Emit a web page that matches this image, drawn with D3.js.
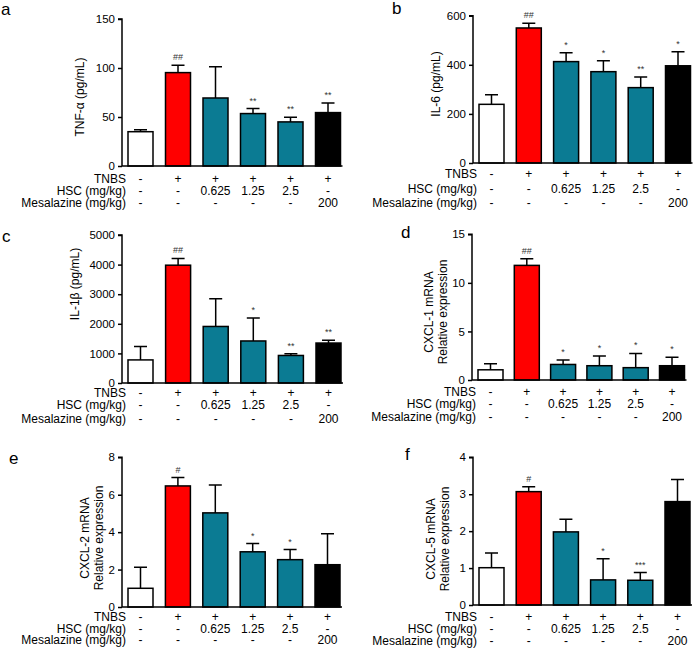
<!DOCTYPE html>
<html>
<head>
<meta charset="utf-8">
<script src="https://cdn.jsdelivr.net/npm/d3@7"></script>
<style>
  body { margin: 0; background: #fff; }
  svg text { font-family: "Liberation Sans", Arial, sans-serif; fill: #000; }
  .bar { stroke: #000; stroke-width: 1.5; }
  .err { stroke: #000; stroke-width: 1.5; fill: none; }
  .axis path, .axis line { stroke: #000; stroke-width: 1.5; }
  .sig { font-size: 9px; fill: #333; }
</style>
</head>
<body>
<svg width="698" height="649"></svg>
<script>
// groups, row labels under each chart
const groups = ["Control", "TNBS", "HSC 0.625", "HSC 1.25", "HSC 2.5", "Mesalazine"];
const rowLabels = ["TNBS", "HSC (mg/kg)", "Mesalazine (mg/kg)"];
const tnbsRow = ["-", "+", "+", "+", "+", "+"];
const hscRow = ["-", "-", "0.625", "1.25", "2.5", "-"];
const mesRow = ["-", "-", "-", "-", "-", "200"];
const barColors = ["#ffffff", "#ff0000", "#0b7b93", "#0b7b93", "#0b7b93", "#000000"];

// a: TNF-a
const tnfMean = [35, 95.3, 69.4, 53.5, 45, 54.5];
const tnfSd = [2, 7.4, 32, 5.1, 4.7, 9.8];
const tnfSig = ["", "##", "", "**", "**", "**"];
const tnfTicks = [0, 50, 100, 150];
// b: IL-6
const il6Mean = [239, 550, 413, 372, 307, 396];
const il6Sd = [39, 19, 36, 45, 43, 57];
const il6Sig = ["", "##", "*", "*", "**", "*"];
const il6Ticks = [0, 200, 400, 600];
// c: IL-1b
const il1bMean = [780, 3980, 1910, 1420, 930, 1350];
const il1bSd = [450, 230, 940, 780, 60, 95];
const il1bSig = ["", "##", "", "*", "**", "**"];
const il1bTicks = [0, 1000, 2000, 3000, 4000, 5000];
// d: CXCL-1
const cxcl1Mean = [1.05, 11.8, 1.6, 1.47, 1.27, 1.47];
const cxcl1Sd = [0.63, 0.67, 0.45, 1.0, 1.47, 0.86];
const cxcl1Sig = ["", "##", "*", "*", "*", "*"];
const cxcl1Ticks = [0, 5, 10, 15];
// e: CXCL-2
const cxcl2Mean = [1.0, 6.47, 5.03, 2.95, 2.53, 2.26];
const cxcl2Sd = [1.12, 0.45, 1.49, 0.44, 0.54, 1.66];
const cxcl2Sig = ["", "#", "", "*", "*", ""];
const cxcl2Ticks = [0, 2, 4, 6, 8];
// f: CXCL-5
const cxcl5Mean = [1.01, 3.07, 1.98, 0.68, 0.67, 2.8];
const cxcl5Sd = [0.4, 0.13, 0.34, 0.57, 0.21, 0.6];
const cxcl5Sig = ["", "#", "", "*", "***", ""];
const cxcl5Ticks = [0, 1, 2, 3, 4];

// panel placement (pixels)
const panels = [
  {letter: "a", lx: 1, ly: 15, mean: tnfMean, sd: tnfSd, sig: tnfSig, ticks: tnfTicks,
   label: ["TNF-\u03b1 (pg/mL)"], labX: 80, labY: 97,
   ax: 122, top: 19, bot: 166, step: 37.5, rows: [179, 191, 203]},
  {letter: "b", lx: 392, ly: 14, mean: il6Mean, sd: il6Sd, sig: il6Sig, ticks: il6Ticks,
   label: ["IL-6 (pg/mL)"], labX: 436, labY: 84,
   ax: 473, top: 15.7, bot: 163, step: 37.3, rows: [174, 189, 203]},
  {letter: "c", lx: 2, ly: 242, mean: il1bMean, sd: il1bSd, sig: il1bSig, ticks: il1bTicks,
   label: ["IL-1\u03b2 (pg/mL)"], labX: 75, labY: 284,
   ax: 122, top: 235, bot: 383, step: 37.6, rows: [392.5, 404.5, 419]},
  {letter: "d", lx: 401, ly: 238, mean: cxcl1Mean, sd: cxcl1Sd, sig: cxcl1Sig, ticks: cxcl1Ticks,
   label: ["CXCL-1 mRNA", "Relative expression"], labX: 429, labY: 312,
   ax: 472, top: 234.3, bot: 380, step: 36.3, rows: [391.5, 404, 416.5]},
  {letter: "e", lx: 9, ly: 464, mean: cxcl2Mean, sd: cxcl2Sd, sig: cxcl2Sig, ticks: cxcl2Ticks,
   label: ["CXCL-2 mRNA", "Relative expression"], labX: 85, labY: 538,
   ax: 122, top: 457.3, bot: 607, step: 37.4, rows: [617, 629, 640]},
  {letter: "f", lx: 405, ly: 460, mean: cxcl5Mean, sd: cxcl5Sd, sig: cxcl5Sig, ticks: cxcl5Ticks,
   label: ["CXCL-5 mRNA", "Relative expression"], labX: 431, labY: 539,
   ax: 473, top: 457.3, bot: 605, step: 37.2, rows: [616.5, 629, 641]}
];

const svg = d3.select("svg");
const barW = 25;

panels.forEach(p => {
  const g = svg.append("g");
  const n = groups.length;
  const x = d3.scaleBand()
      .domain(groups)
      .range([p.ax + 6 - (p.step - barW) / 2, p.ax + 6 - (p.step - barW) / 2 + p.step * n])
      .paddingInner((p.step - barW) / p.step)
      .paddingOuter((p.step - barW) / p.step / 2);
  const y = d3.scaleLinear()
      .domain([0, d3.max(p.ticks)])
      .range([p.bot, p.top]);

  // bars
  g.selectAll("rect.bar")
    .data(groups)
    .join("rect")
      .classed("bar", true)
      .attr("x", d => x(d))
      .attr("y", (d, i) => y(p.mean[i]))
      .attr("width", x.bandwidth())
      .attr("height", (d, i) => y(0) - y(p.mean[i]))
      .attr("fill", (d, i) => barColors[i]);

  // upper error bars
  const cx = d => x(d) + x.bandwidth() / 2;
  g.selectAll("path.err")
    .data(groups)
    .join("path")
      .classed("err", true)
      .attr("d", (d, i) => {
        const y0 = y(p.mean[i]), y1 = y(p.mean[i] + p.sd[i]);
        return `M ${cx(d)} ${y0} L ${cx(d)} ${y1} M ${cx(d) - 6.5} ${y1} L ${cx(d) + 6.5} ${y1}`;
      });

  // significance marks
  g.selectAll("text.sig")
    .data(groups)
    .join("text")
      .classed("sig", true)
      .attr("x", cx)
      .attr("y", (d, i) => y(p.mean[i] + p.sd[i]) - 5)
      .attr("text-anchor", "middle")
      .text((d, i) => p.sig[i]);

  // y axis
  const yAxis = g.append("g")
      .attr("class", "axis")
      .attr("transform", `translate(${p.ax},0)`)
      .call(d3.axisLeft(y).tickValues(p.ticks).tickSize(4).tickPadding(3).tickFormat(d3.format("d")));
  yAxis.select(".domain").attr("d", `M -4 ${y(d3.max(p.ticks))} H 0 V ${y(0)}`);
  yAxis.selectAll("text").style("font-size", "11.5px").attr("fill", "#000");

  // x axis line
  g.append("line")
      .attr("x1", p.ax).attr("x2", x(groups[n - 1]) + x.bandwidth() + 2)
      .attr("y1", y(0)).attr("y2", y(0))
      .attr("stroke", "#000").attr("stroke-width", 1.5);

  // treatment rows
  [tnbsRow, hscRow, mesRow].forEach((row, r) => {
    g.append("text")
        .attr("x", p.ax + 4)
        .attr("y", p.rows[r])
        .attr("dy", "0.35em")
        .attr("text-anchor", "end")
        .style("font-size", "12px")
        .text(rowLabels[r]);
    g.selectAll(null)
      .data(row)
      .join("text")
        .attr("x", (d, i) => cx(groups[i]))
        .attr("y", p.rows[r])
        .attr("dy", "0.35em")
        .attr("text-anchor", "middle")
        .style("font-size", "12px")
        .text(d => d);
  });

  // y label
  p.label.forEach((t, k) => {
    g.append("text")
        .attr("transform", `translate(${p.labX + k * 13.5},${p.labY}) rotate(-90)`)
        .attr("dy", "0.35em")
        .attr("text-anchor", "middle")
        .style("font-size", "12px")
        .text(t);
  });

  // panel letter
  g.append("text")
      .attr("x", p.lx).attr("y", p.ly)
      .style("font-size", "17px")
      .text(p.letter);
});
</script>
</body>
</html>
